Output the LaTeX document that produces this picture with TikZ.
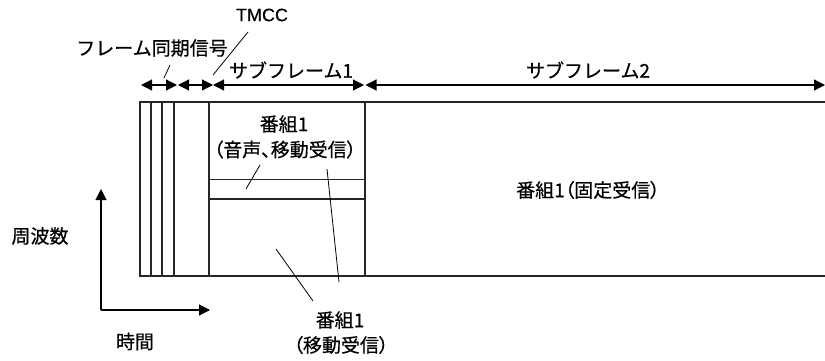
\documentclass[tikz,border=0pt]{standalone}
\usepackage{fontspec}
\setmainfont[FakeBold=0.5]{Noto Sans CJK JP}
\newfontfamily\pfont[FakeBold=0.5,RawFeature=+palt]{Noto Sans CJK JP}
\newfontfamily\latfont[FakeBold=0.3]{Liberation Sans}
\usetikzlibrary{arrows.meta}
\begin{document}
\begin{tikzpicture}[x=1pt,y=-1pt,
  frame/.style={line width=1.1pt,draw=black!85},
  ptr/.style={line width=0.8pt},
  dim/.style={line width=1.2pt,{Triangle[length=11pt,width=11pt]}-{Triangle[length=11pt,width=11pt]}},
  axis/.style={line width=1.1pt,-{Triangle[length=11pt,width=11pt]}},
  lbl/.style={font=\fontsize{19}{22}\selectfont,inner sep=0pt,align=center},
  plbl/.style={font=\pfont\fontsize{19}{22}\selectfont,inner sep=0pt,align=center},
]
\useasboundingbox (0,0) rectangle (825,361);
% frame coordinates
\coordinate (TL) at (140,102);
\coordinate (BL) at (140,276);
\coordinate (TR) at (826,102);
\coordinate (BR) at (826,276);
\foreach \n/\x in {a/151,b/162,c/174,d/209,e/365}{
  \coordinate (\n t) at (\x,102);
  \coordinate (\n b) at (\x,276);
}
\coordinate (h1l) at (209,179.5);
\coordinate (h1r) at (365,179.5);
\coordinate (h2l) at (209,199);
\coordinate (h2r) at (365,199);
\draw[frame] (TR) -- (TL) -- (BL) -- (BR);
\foreach \n in {a,b,c,d,e}{\draw[frame] (\n t) -- (\n b);}
\draw[frame] (h1l) -- (h1r);
\draw[frame] (h2l) -- (h2r);
% dimension arrows
\coordinate (p0) at (141,85);
\coordinate (p1) at (177,85);
\coordinate (p2) at (178,85);
\coordinate (p3) at (213,85);
\coordinate (p4) at (364,85);
\coordinate (p5) at (365.5,85);
\coordinate (p6) at (825,85);
\draw[dim] (p0) -- (p1);
\draw[dim] (p2) -- (p3);
\draw[dim] (p3) -- (p4);
\draw[dim] (p5) -- (p6);
% labels
\node[lbl] (sync) at (152,48) {フレーム同期信号};
\node[lbl,font=\latfont\fontsize{18}{20}\selectfont] (tmcc) at (262,15) {TMCC};
\node[lbl] (sf1) at (291,70) {サブフレーム1};
\node[lbl] (sf2) at (588,70) {サブフレーム2};
\node[lbl] (p1a) at (284,124) {番組1};
\node[plbl] (p1b) at (285,149.5) {（音声、移動受信）};
\node[plbl] (fixed) at (588,190) {番組1（固定受信）};
\node[lbl] (m1) at (340,320) {番組1};
\node[plbl] (m2) at (341,345) {（移動受信）};
\node[lbl] (freq) at (40,236) {周波数};
\node[lbl] (time) at (135,341.5) {時間};
% pointers
\coordinate (s1) at (170,65);
\coordinate (s2) at (164,78);
\draw[ptr] (s1) -- (s2);
\coordinate (t1) at (248,32);
\coordinate (t2) at (213,75);
\draw[ptr] (t1) -- (t2);
\coordinate (u1) at (260,165);
\coordinate (u2) at (246,189);
\draw[ptr] (u1) -- (u2);
\coordinate (v1) at (327,169);
\coordinate (v2) at (339,282);
\draw[ptr] (v1) -- (v2);
\coordinate (w1) at (276,249);
\coordinate (w2) at (313,301);
\draw[ptr] (w1) -- (w2);
% axes
\coordinate (O) at (101,310);
\coordinate (Yt) at (101,189);
\coordinate (Xt) at (210,310);
\draw[axis] (O) -- (Yt);
\draw[axis] (O) -- (Xt);
\end{tikzpicture}
\end{document}
